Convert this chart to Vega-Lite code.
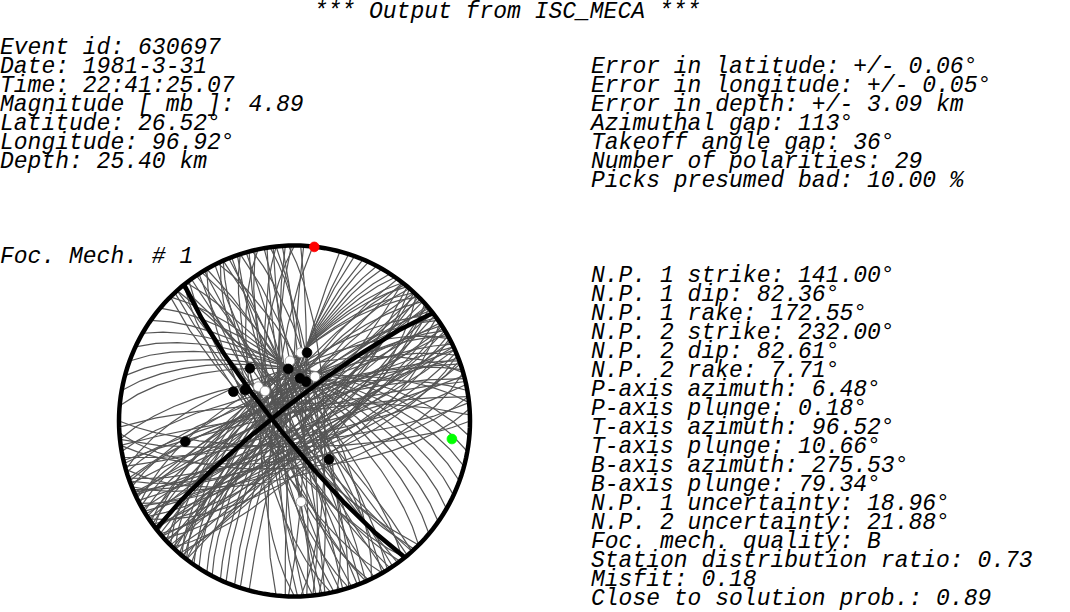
{
  "$schema": "https://vega.github.io/schema/vega-lite/v6.json",
  "width": 1070,
  "height": 612,
  "padding": 0,
  "autosize": {"type": "none"},
  "background": "white",
  "config": {"view": {"stroke": null}},
  "datasets": {
    "title": [{"text": "*** Output from ISC_MECA ***", "col": 33.8, "row": 0.1}],
    "texts": [
      {"text": "Event id: 630697", "col": 0, "row": 2},
      {"text": "Date: 1981-3-31", "col": 0, "row": 3},
      {"text": "Time: 22:41:25.07", "col": 0, "row": 4},
      {"text": "Magnitude [ mb ]: 4.89", "col": 0, "row": 5},
      {"text": "Latitude: 26.52°", "col": 0, "row": 6},
      {"text": "Longitude: 96.92°", "col": 0, "row": 7},
      {"text": "Depth: 25.40 km", "col": 0, "row": 8},
      {"text": "Error in latitude: +/- 0.06°", "col": 39.4, "row": 3},
      {"text": "Error in longitude: +/- 0.05°", "col": 39.4, "row": 4},
      {"text": "Error in depth: +/- 3.09 km", "col": 39.4, "row": 5},
      {"text": "Azimuthal gap: 113°", "col": 39.4, "row": 6},
      {"text": "Takeoff angle gap: 36°", "col": 39.4, "row": 7},
      {"text": "Number of polarities: 29", "col": 39.4, "row": 8},
      {"text": "Picks presumed bad: 10.00 %", "col": 39.4, "row": 9},
      {"text": "Foc. Mech. # 1", "col": 0, "row": 13},
      {"text": "N.P. 1 strike: 141.00°", "col": 39.4, "row": 14},
      {"text": "N.P. 1 dip: 82.36°", "col": 39.4, "row": 15},
      {"text": "N.P. 1 rake: 172.55°", "col": 39.4, "row": 16},
      {"text": "N.P. 2 strike: 232.00°", "col": 39.4, "row": 17},
      {"text": "N.P. 2 dip: 82.61°", "col": 39.4, "row": 18},
      {"text": "N.P. 2 rake: 7.71°", "col": 39.4, "row": 19},
      {"text": "P-axis azimuth: 6.48°", "col": 39.4, "row": 20},
      {"text": "P-axis plunge: 0.18°", "col": 39.4, "row": 21},
      {"text": "T-axis azimuth: 96.52°", "col": 39.4, "row": 22},
      {"text": "T-axis plunge: 10.66°", "col": 39.4, "row": 23},
      {"text": "B-axis azimuth: 275.53°", "col": 39.4, "row": 24},
      {"text": "B-axis plunge: 79.34°", "col": 39.4, "row": 25},
      {"text": "N.P. 1 uncertainty: 18.96°", "col": 39.4, "row": 26},
      {"text": "N.P. 2 uncertainty: 21.88°", "col": 39.4, "row": 27},
      {"text": "Foc. mech. quality: B", "col": 39.4, "row": 28},
      {"text": "Station distribution ratio: 0.73", "col": 39.4, "row": 29},
      {"text": "Misfit: 0.18", "col": 39.4, "row": 30},
      {"text": "Close to solution prob.: 0.89", "col": 39.4, "row": 31}
    ],
    "nodal": [
      {"type": "Feature", "properties": {"plane": "NP1"}, "geometry": {"type": "LineString", "coordinates": [[39, 0], [-51, 82.36], [-141, 0]]}},
      {"type": "Feature", "properties": {"plane": "NP2"}, "geometry": {"type": "LineString", "coordinates": [[-52, 0], [-142, 82.61], [128, 0]]}}
    ],
    "planes": [
      {"type": "Feature", "geometry": {"type": "LineString", "coordinates": [[45, 0], [-45, 80], [-135, 0]]}},
      {"type": "Feature", "geometry": {"type": "LineString", "coordinates": [[42, 0], [-48, 86], [-138, 0]]}},
      {"type": "Feature", "geometry": {"type": "LineString", "coordinates": [[39, 0], [-51, 76], [-141, 0]]}},
      {"type": "Feature", "geometry": {"type": "LineString", "coordinates": [[36, 0], [-54, 88], [-144, 0]]}},
      {"type": "Feature", "geometry": {"type": "LineString", "coordinates": [[33, 0], [-57, 82], [-147, 0]]}},
      {"type": "Feature", "geometry": {"type": "LineString", "coordinates": [[30, 0], [-60, 74], [-150, 0]]}},
      {"type": "Feature", "geometry": {"type": "LineString", "coordinates": [[27, 0], [-63, 85], [-153, 0]]}},
      {"type": "Feature", "geometry": {"type": "LineString", "coordinates": [[24, 0], [-66, 79], [-156, 0]]}},
      {"type": "Feature", "geometry": {"type": "LineString", "coordinates": [[21, 0], [-69, 89], [-159, 0]]}},
      {"type": "Feature", "geometry": {"type": "LineString", "coordinates": [[18, 0], [-72, 76], [-162, 0]]}},
      {"type": "Feature", "geometry": {"type": "LineString", "coordinates": [[15, 0], [-75, 83], [-165, 0]]}},
      {"type": "Feature", "geometry": {"type": "LineString", "coordinates": [[12, 0], [-78, 72], [-168, 0]]}},
      {"type": "Feature", "geometry": {"type": "LineString", "coordinates": [[9, 0], [-81, 86], [-171, 0]]}},
      {"type": "Feature", "geometry": {"type": "LineString", "coordinates": [[6, 0], [-84, 78], [-174, 0]]}},
      {"type": "Feature", "geometry": {"type": "LineString", "coordinates": [[3, 0], [-87, 84], [-177, 0]]}},
      {"type": "Feature", "geometry": {"type": "LineString", "coordinates": [[0, 0], [-90, 74], [-180, 0]]}},
      {"type": "Feature", "geometry": {"type": "LineString", "coordinates": [[-3, 0], [-93, 88], [177, 0]]}},
      {"type": "Feature", "geometry": {"type": "LineString", "coordinates": [[-6, 0], [-96, 80], [174, 0]]}},
      {"type": "Feature", "geometry": {"type": "LineString", "coordinates": [[43, 0], [-47, 82], [-137, 0]]}},
      {"type": "Feature", "geometry": {"type": "LineString", "coordinates": [[37, 0], [-53, 78], [-143, 0]]}},
      {"type": "Feature", "geometry": {"type": "LineString", "coordinates": [[31, 0], [-59, 88], [-149, 0]]}},
      {"type": "Feature", "geometry": {"type": "LineString", "coordinates": [[25, 0], [-65, 76], [-155, 0]]}},
      {"type": "Feature", "geometry": {"type": "LineString", "coordinates": [[19, 0], [-71, 84], [-161, 0]]}},
      {"type": "Feature", "geometry": {"type": "LineString", "coordinates": [[13, 0], [-77, 80], [-167, 0]]}},
      {"type": "Feature", "geometry": {"type": "LineString", "coordinates": [[7, 0], [-83, 88], [-173, 0]]}},
      {"type": "Feature", "geometry": {"type": "LineString", "coordinates": [[1, 0], [-89, 82], [-179, 0]]}},
      {"type": "Feature", "geometry": {"type": "LineString", "coordinates": [[-138, 0], [132, 84], [42, 0]]}},
      {"type": "Feature", "geometry": {"type": "LineString", "coordinates": [[-142, 0], [128, 78], [38, 0]]}},
      {"type": "Feature", "geometry": {"type": "LineString", "coordinates": [[-146, 0], [124, 88], [34, 0]]}},
      {"type": "Feature", "geometry": {"type": "LineString", "coordinates": [[-150, 0], [120, 82], [30, 0]]}},
      {"type": "Feature", "geometry": {"type": "LineString", "coordinates": [[-154, 0], [116, 75], [26, 0]]}},
      {"type": "Feature", "geometry": {"type": "LineString", "coordinates": [[-158, 0], [112, 86], [22, 0]]}},
      {"type": "Feature", "geometry": {"type": "LineString", "coordinates": [[-162, 0], [108, 80], [18, 0]]}},
      {"type": "Feature", "geometry": {"type": "LineString", "coordinates": [[-166, 0], [104, 77], [14, 0]]}},
      {"type": "Feature", "geometry": {"type": "LineString", "coordinates": [[-170, 0], [100, 87], [10, 0]]}},
      {"type": "Feature", "geometry": {"type": "LineString", "coordinates": [[-174, 0], [96, 82], [6, 0]]}},
      {"type": "Feature", "geometry": {"type": "LineString", "coordinates": [[-178, 0], [92, 76], [2, 0]]}},
      {"type": "Feature", "geometry": {"type": "LineString", "coordinates": [[178, 0], [88, 85], [-2, 0]]}},
      {"type": "Feature", "geometry": {"type": "LineString", "coordinates": [[-140, 0], [130, 86], [40, 0]]}},
      {"type": "Feature", "geometry": {"type": "LineString", "coordinates": [[-148, 0], [122, 80], [32, 0]]}},
      {"type": "Feature", "geometry": {"type": "LineString", "coordinates": [[-156, 0], [114, 84], [24, 0]]}},
      {"type": "Feature", "geometry": {"type": "LineString", "coordinates": [[-164, 0], [106, 88], [16, 0]]}},
      {"type": "Feature", "geometry": {"type": "LineString", "coordinates": [[-172, 0], [98, 79], [8, 0]]}},
      {"type": "Feature", "geometry": {"type": "LineString", "coordinates": [[-176, 0], [94, 86], [4, 0]]}},
      {"type": "Feature", "geometry": {"type": "LineString", "coordinates": [[-38, 0], [-128, 84], [142, 0]]}},
      {"type": "Feature", "geometry": {"type": "LineString", "coordinates": [[-41, 0], [-131, 78], [139, 0]]}},
      {"type": "Feature", "geometry": {"type": "LineString", "coordinates": [[-44, 0], [-134, 88], [136, 0]]}},
      {"type": "Feature", "geometry": {"type": "LineString", "coordinates": [[-47, 0], [-137, 74], [133, 0]]}},
      {"type": "Feature", "geometry": {"type": "LineString", "coordinates": [[-50, 0], [-140, 82], [130, 0]]}},
      {"type": "Feature", "geometry": {"type": "LineString", "coordinates": [[-53, 0], [-143, 70], [127, 0]]}},
      {"type": "Feature", "geometry": {"type": "LineString", "coordinates": [[-56, 0], [-146, 86], [124, 0]]}},
      {"type": "Feature", "geometry": {"type": "LineString", "coordinates": [[-59, 0], [-149, 77], [121, 0]]}},
      {"type": "Feature", "geometry": {"type": "LineString", "coordinates": [[-62, 0], [-152, 68], [118, 0]]}},
      {"type": "Feature", "geometry": {"type": "LineString", "coordinates": [[-65, 0], [-155, 84], [115, 0]]}},
      {"type": "Feature", "geometry": {"type": "LineString", "coordinates": [[-68, 0], [-158, 73], [112, 0]]}},
      {"type": "Feature", "geometry": {"type": "LineString", "coordinates": [[-71, 0], [-161, 80], [109, 0]]}},
      {"type": "Feature", "geometry": {"type": "LineString", "coordinates": [[-74, 0], [-164, 66], [106, 0]]}},
      {"type": "Feature", "geometry": {"type": "LineString", "coordinates": [[-77, 0], [-167, 86], [103, 0]]}},
      {"type": "Feature", "geometry": {"type": "LineString", "coordinates": [[-80, 0], [-170, 75], [100, 0]]}},
      {"type": "Feature", "geometry": {"type": "LineString", "coordinates": [[-84, 0], [-174, 70], [96, 0]]}},
      {"type": "Feature", "geometry": {"type": "LineString", "coordinates": [[-88, 0], [-178, 82], [92, 0]]}},
      {"type": "Feature", "geometry": {"type": "LineString", "coordinates": [[-36, 0], [-126, 80], [144, 0]]}},
      {"type": "Feature", "geometry": {"type": "LineString", "coordinates": [[-46, 0], [-136, 86], [134, 0]]}},
      {"type": "Feature", "geometry": {"type": "LineString", "coordinates": [[-51, 0], [-141, 79], [129, 0]]}},
      {"type": "Feature", "geometry": {"type": "LineString", "coordinates": [[-55, 0], [-145, 73], [125, 0]]}},
      {"type": "Feature", "geometry": {"type": "LineString", "coordinates": [[-60, 0], [-150, 88], [120, 0]]}},
      {"type": "Feature", "geometry": {"type": "LineString", "coordinates": [[-64, 0], [-154, 78], [116, 0]]}},
      {"type": "Feature", "geometry": {"type": "LineString", "coordinates": [[-69, 0], [-159, 86], [111, 0]]}},
      {"type": "Feature", "geometry": {"type": "LineString", "coordinates": [[-73, 0], [-163, 76], [107, 0]]}},
      {"type": "Feature", "geometry": {"type": "LineString", "coordinates": [[-39, 0], [-129, 76], [141, 0]]}},
      {"type": "Feature", "geometry": {"type": "LineString", "coordinates": [[-43, 0], [-133, 82], [137, 0]]}},
      {"type": "Feature", "geometry": {"type": "LineString", "coordinates": [[-49, 0], [-139, 88], [131, 0]]}},
      {"type": "Feature", "geometry": {"type": "LineString", "coordinates": [[-54, 0], [-144, 77], [126, 0]]}},
      {"type": "Feature", "geometry": {"type": "LineString", "coordinates": [[-57, 0], [-147, 81], [123, 0]]}},
      {"type": "Feature", "geometry": {"type": "LineString", "coordinates": [[-61, 0], [-151, 75], [119, 0]]}},
      {"type": "Feature", "geometry": {"type": "LineString", "coordinates": [[-66, 0], [-156, 88], [114, 0]]}},
      {"type": "Feature", "geometry": {"type": "LineString", "coordinates": [[-70, 0], [-160, 79], [110, 0]]}},
      {"type": "Feature", "geometry": {"type": "LineString", "coordinates": [[-76, 0], [-166, 82], [104, 0]]}},
      {"type": "Feature", "geometry": {"type": "LineString", "coordinates": [[-82, 0], [-172, 86], [98, 0]]}},
      {"type": "Feature", "geometry": {"type": "LineString", "coordinates": [[142, 0], [52, 86], [-38, 0]]}},
      {"type": "Feature", "geometry": {"type": "LineString", "coordinates": [[139, 0], [49, 79], [-41, 0]]}},
      {"type": "Feature", "geometry": {"type": "LineString", "coordinates": [[136, 0], [46, 72], [-44, 0]]}},
      {"type": "Feature", "geometry": {"type": "LineString", "coordinates": [[133, 0], [43, 88], [-47, 0]]}},
      {"type": "Feature", "geometry": {"type": "LineString", "coordinates": [[130, 0], [40, 76], [-50, 0]]}},
      {"type": "Feature", "geometry": {"type": "LineString", "coordinates": [[127, 0], [37, 83], [-53, 0]]}},
      {"type": "Feature", "geometry": {"type": "LineString", "coordinates": [[124, 0], [34, 68], [-56, 0]]}},
      {"type": "Feature", "geometry": {"type": "LineString", "coordinates": [[121, 0], [31, 80], [-59, 0]]}},
      {"type": "Feature", "geometry": {"type": "LineString", "coordinates": [[118, 0], [28, 74], [-62, 0]]}},
      {"type": "Feature", "geometry": {"type": "LineString", "coordinates": [[115, 0], [25, 86], [-65, 0]]}},
      {"type": "Feature", "geometry": {"type": "LineString", "coordinates": [[112, 0], [22, 70], [-68, 0]]}},
      {"type": "Feature", "geometry": {"type": "LineString", "coordinates": [[109, 0], [19, 78], [-71, 0]]}},
      {"type": "Feature", "geometry": {"type": "LineString", "coordinates": [[106, 0], [16, 65], [-74, 0]]}},
      {"type": "Feature", "geometry": {"type": "LineString", "coordinates": [[102, 0], [12, 82], [-78, 0]]}},
      {"type": "Feature", "geometry": {"type": "LineString", "coordinates": [[98, 0], [8, 72], [-82, 0]]}},
      {"type": "Feature", "geometry": {"type": "LineString", "coordinates": [[94, 0], [4, 68], [-86, 0]]}},
      {"type": "Feature", "geometry": {"type": "LineString", "coordinates": [[90, 0], [0, 78], [-90, 0]]}},
      {"type": "Feature", "geometry": {"type": "LineString", "coordinates": [[137, 0], [47, 82], [-43, 0]]}},
      {"type": "Feature", "geometry": {"type": "LineString", "coordinates": [[132, 0], [42, 74], [-48, 0]]}},
      {"type": "Feature", "geometry": {"type": "LineString", "coordinates": [[128, 0], [38, 88], [-52, 0]]}},
      {"type": "Feature", "geometry": {"type": "LineString", "coordinates": [[123, 0], [33, 78], [-57, 0]]}},
      {"type": "Feature", "geometry": {"type": "LineString", "coordinates": [[117, 0], [27, 84], [-63, 0]]}},
      {"type": "Feature", "geometry": {"type": "LineString", "coordinates": [[113, 0], [23, 76], [-67, 0]]}},
      {"type": "Feature", "geometry": {"type": "LineString", "coordinates": [[140, 0], [50, 82], [-40, 0]]}},
      {"type": "Feature", "geometry": {"type": "LineString", "coordinates": [[135, 0], [45, 86], [-45, 0]]}},
      {"type": "Feature", "geometry": {"type": "LineString", "coordinates": [[131, 0], [41, 80], [-49, 0]]}},
      {"type": "Feature", "geometry": {"type": "LineString", "coordinates": [[126, 0], [36, 76], [-54, 0]]}},
      {"type": "Feature", "geometry": {"type": "LineString", "coordinates": [[122, 0], [32, 88], [-58, 0]]}},
      {"type": "Feature", "geometry": {"type": "LineString", "coordinates": [[119, 0], [29, 78], [-61, 0]]}},
      {"type": "Feature", "geometry": {"type": "LineString", "coordinates": [[114, 0], [24, 82], [-66, 0]]}},
      {"type": "Feature", "geometry": {"type": "LineString", "coordinates": [[110, 0], [20, 74], [-70, 0]]}},
      {"type": "Feature", "geometry": {"type": "LineString", "coordinates": [[105, 0], [15, 86], [-75, 0]]}},
      {"type": "Feature", "geometry": {"type": "LineString", "coordinates": [[96, 0], [6, 80], [-84, 0]]}},
      {"type": "Feature", "geometry": {"type": "LineString", "coordinates": [[-15, 0], [-105, 86], [165, 0]]}},
      {"type": "Feature", "geometry": {"type": "LineString", "coordinates": [[-18, 0], [-108, 84], [162, 0]]}},
      {"type": "Feature", "geometry": {"type": "LineString", "coordinates": [[-20, 0], [-110, 82], [160, 0]]}},
      {"type": "Feature", "geometry": {"type": "LineString", "coordinates": [[-23, 0], [-113, 80], [157, 0]]}},
      {"type": "Feature", "geometry": {"type": "LineString", "coordinates": [[-25, 0], [-115, 79], [155, 0]]}},
      {"type": "Feature", "geometry": {"type": "LineString", "coordinates": [[-28, 0], [-118, 77], [152, 0]]}},
      {"type": "Feature", "geometry": {"type": "LineString", "coordinates": [[-30, 0], [-120, 76], [150, 0]]}},
      {"type": "Feature", "geometry": {"type": "LineString", "coordinates": [[-33, 0], [-123, 74], [147, 0]]}},
      {"type": "Feature", "geometry": {"type": "LineString", "coordinates": [[-35, 0], [-125, 73], [145, 0]]}},
      {"type": "Feature", "geometry": {"type": "LineString", "coordinates": [[-38, 0], [-128, 71], [142, 0]]}},
      {"type": "Feature", "geometry": {"type": "LineString", "coordinates": [[-40, 0], [-130, 70], [140, 0]]}},
      {"type": "Feature", "geometry": {"type": "LineString", "coordinates": [[-43, 0], [-133, 69], [137, 0]]}},
      {"type": "Feature", "geometry": {"type": "LineString", "coordinates": [[-45, 0], [-135, 68], [135, 0]]}},
      {"type": "Feature", "geometry": {"type": "LineString", "coordinates": [[-95, 0], [175, 66], [85, 0]]}},
      {"type": "Feature", "geometry": {"type": "LineString", "coordinates": [[-100, 0], [170, 66], [80, 0]]}},
      {"type": "Feature", "geometry": {"type": "LineString", "coordinates": [[-105, 0], [165, 67], [75, 0]]}},
      {"type": "Feature", "geometry": {"type": "LineString", "coordinates": [[-110, 0], [160, 67], [70, 0]]}},
      {"type": "Feature", "geometry": {"type": "LineString", "coordinates": [[-115, 0], [155, 68], [65, 0]]}},
      {"type": "Feature", "geometry": {"type": "LineString", "coordinates": [[-120, 0], [150, 69], [60, 0]]}},
      {"type": "Feature", "geometry": {"type": "LineString", "coordinates": [[-125, 0], [145, 71], [55, 0]]}},
      {"type": "Feature", "geometry": {"type": "LineString", "coordinates": [[-130, 0], [140, 72], [50, 0]]}},
      {"type": "Feature", "geometry": {"type": "LineString", "coordinates": [[-135, 0], [135, 74], [45, 0]]}}
    ],
    "pols": [
      {"kind": "D", "lon": 174.6, "lat": 57.9},
      {"kind": "D", "lon": -175.7, "lat": 61.9},
      {"kind": "D", "lon": 155.2, "lat": 67.3},
      {"kind": "D", "lon": -133.5, "lat": 66.8},
      {"kind": "D", "lon": -135.5, "lat": 70.5},
      {"kind": "D", "lon": 4.6, "lat": 51.9},
      {"kind": "C", "lon": 169.6, "lat": 57.5},
      {"kind": "C", "lon": -139.8, "lat": 57.7},
      {"kind": "C", "lon": -173.2, "lat": 65.6},
      {"kind": "C", "lon": 172.7, "lat": 70.0},
      {"kind": "C", "lon": 163.7, "lat": 71.0},
      {"kind": "C", "lon": -122.1, "lat": 62.8},
      {"kind": "C", "lon": -115.6, "lat": 58.3},
      {"kind": "C", "lon": -79.3, "lat": 36.8},
      {"kind": "C", "lon": 42.0, "lat": 66.0},
      {"kind": "P", "lon": 173.52, "lat": 0.18},
      {"kind": "T", "lon": 83.48, "lat": 10.66}
    ]
  },
  "layer": [
    {
      "data": {"sphere": true},
      "mark": {"type": "geoshape", "fill": "white", "strokeWidth": 0},
      "projection": {"type": "azimuthalEqualArea", "rotate": [0, -90, 0], "scale": 124.1, "translate": [294.5, 421], "clipAngle": 90}
    },
    {
      "data": {"name": "planes"},
      "mark": {"type": "geoshape", "filled": false, "stroke": "#555555", "strokeWidth": 1.2},
      "projection": {"type": "azimuthalEqualArea", "rotate": [0, -90, 0], "scale": 124.1, "translate": [294.5, 421], "clipAngle": 90}
    },
    {
      "data": {"name": "nodal"},
      "mark": {"type": "geoshape", "filled": false, "stroke": "black", "strokeWidth": 4.5},
      "projection": {"type": "azimuthalEqualArea", "rotate": [0, -90, 0], "scale": 124.1, "translate": [294.5, 421], "clipAngle": 90}
    },
    {
      "data": {"sphere": true},
      "mark": {"type": "geoshape", "filled": false, "stroke": "black", "strokeWidth": 4.5},
      "projection": {"type": "azimuthalEqualArea", "rotate": [0, -90, 0], "scale": 124.1, "translate": [294.5, 421], "clipAngle": 90}
    },
    {
      "data": {"name": "pols"},
      "mark": {"type": "circle", "opacity": 1, "size": 95, "strokeWidth": 0.8},
      "projection": {"type": "azimuthalEqualArea", "rotate": [0, -90, 0], "scale": 124.1, "translate": [294.5, 421], "clipAngle": 90},
      "encoding": {
        "longitude": {"field": "lon", "type": "quantitative"},
        "latitude": {"field": "lat", "type": "quantitative"},
        "fill": {"field": "kind", "type": "nominal", "scale": {"domain": ["C", "D", "P", "T"], "range": ["black", "white", "#ff0000", "#00ff00"]}, "legend": null},
        "stroke": {"field": "kind", "type": "nominal", "scale": {"domain": ["C", "D", "P", "T"], "range": ["black", "#888888", "#ff0000", "#00ff00"]}, "legend": null}
      }
    },
    {
      "data": {"name": "texts"},
      "mark": {"type": "text", "font": "Liberation Mono", "fontStyle": "italic", "fontSize": 23, "baseline": "alphabetic", "align": "left", "color": "black"},
      "encoding": {
        "x": {"field": "col", "type": "quantitative", "scale": {"domain": [0, 71.3333], "range": [0, 1070], "zero": false, "nice": false}, "axis": null},
        "y": {"field": "row", "type": "quantitative", "scale": {"domain": [0, 32], "range": [16, 624], "zero": false, "nice": false}, "axis": null},
        "text": {"field": "text", "type": "nominal"}
      }
    },
    {
      "data": {"name": "title"},
      "mark": {"type": "text", "font": "Liberation Mono", "fontStyle": "italic", "fontSize": 23, "baseline": "alphabetic", "align": "center", "color": "black"},
      "encoding": {
        "x": {"field": "col", "type": "quantitative", "scale": {"domain": [0, 71.3333], "range": [0, 1070], "zero": false, "nice": false}, "axis": null},
        "y": {"field": "row", "type": "quantitative", "scale": {"domain": [0, 32], "range": [16, 624], "zero": false, "nice": false}, "axis": null},
        "text": {"field": "text", "type": "nominal"}
      }
    }
  ]
}
